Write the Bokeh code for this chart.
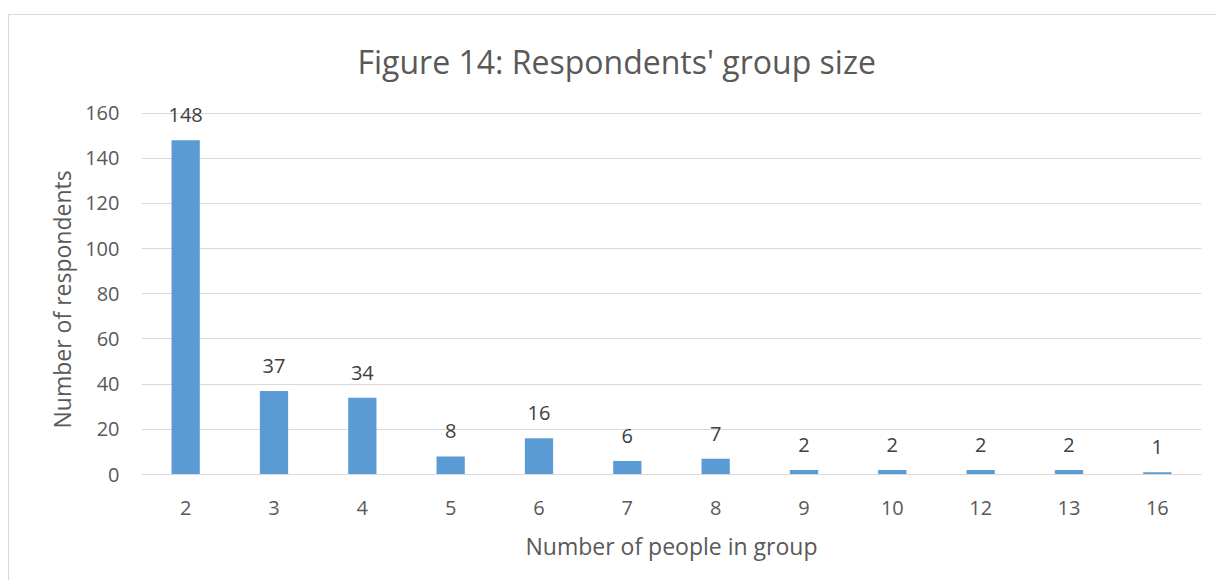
from bokeh.plotting import figure
from bokeh.models import ColumnDataSource, LabelSet, FactorRange, Range1d, FixedTicker, Title
from bokeh.core.properties import value
from bokeh.embed import file_html
from bokeh.resources import INLINE

categories = ["2", "3", "4", "5", "6", "7", "8", "9", "10", "12", "13", "16"]
respondents = [148, 37, 34, 8, 16, 6, 7, 2, 2, 2, 2, 1]
y_ticks = [0, 20, 40, 60, 80, 100, 120, 140, 160]

FONT = "Open Sans"
TXT = "#595959"
GRID = "#d9d9d9"
BAR = "#5b9bd5"

src = ColumnDataSource(dict(cat=categories, val=respondents, lab=[str(v) for v in respondents]))

p = figure(
    x_range=FactorRange(factors=categories, range_padding=0),
    y_range=Range1d(0, 170),
    width=1208, height=566,
    output_backend="svg", toolbar_location=None,
    min_border_left=132, min_border_right=16, min_border_top=75, min_border_bottom=107,
    title="Figure 14: Respondents' group size",
)
p.styles = {"border-top": f"1px solid {GRID}", "border-left": f"1px solid {GRID}",
            "margin-top": "14px", "margin-left": "8px"}
p.outline_line_color = None

p.title.text_font = FONT
p.title.text_font_size = "32px"
p.title.text_font_style = "normal"
p.title.text_color = TXT
p.title.align = "left"
p.title.offset = 216
p.title.standoff = 16

p.vbar(x="cat", top="val", width=0.32, source=src, fill_color=BAR, line_color=None)

labels = LabelSet(x="cat", y="val", text="lab", source=src, text_align="center",
                  text_baseline="alphabetic", y_offset=18, text_font=value(FONT),
                  text_font_size="20px", text_color="#404040")
p.add_layout(labels)

p.yaxis.ticker = FixedTicker(ticks=y_ticks)
p.ygrid.grid_line_color = GRID
p.xgrid.grid_line_color = None

for ax in (p.xaxis[0], p.yaxis[0]):
    ax.major_tick_line_color = None
    ax.minor_tick_line_color = None
    ax.major_label_text_font = FONT
    ax.major_label_text_font_size = "20px"
    ax.major_label_text_color = TXT
    ax.axis_label_text_font = FONT
    ax.axis_label_text_font_size = "23px"
    ax.axis_label_text_font_style = "normal"
    ax.axis_label_text_color = TXT

p.yaxis.axis_line_color = None
p.xaxis.axis_line_color = GRID
p.yaxis.major_label_standoff = 16
p.xaxis.major_label_standoff = 20
p.xaxis.axis_label = "Number of people in group"
p.xaxis.axis_label_standoff = 12

ylab = Title(text="Number of respondents", align="left", offset=46, standoff=10,
             text_font=FONT, text_font_size="23px", text_font_style="normal", text_color=TXT)
p.add_layout(ylab, "left")

open("out.html", "w").write(file_html(p, INLINE))
